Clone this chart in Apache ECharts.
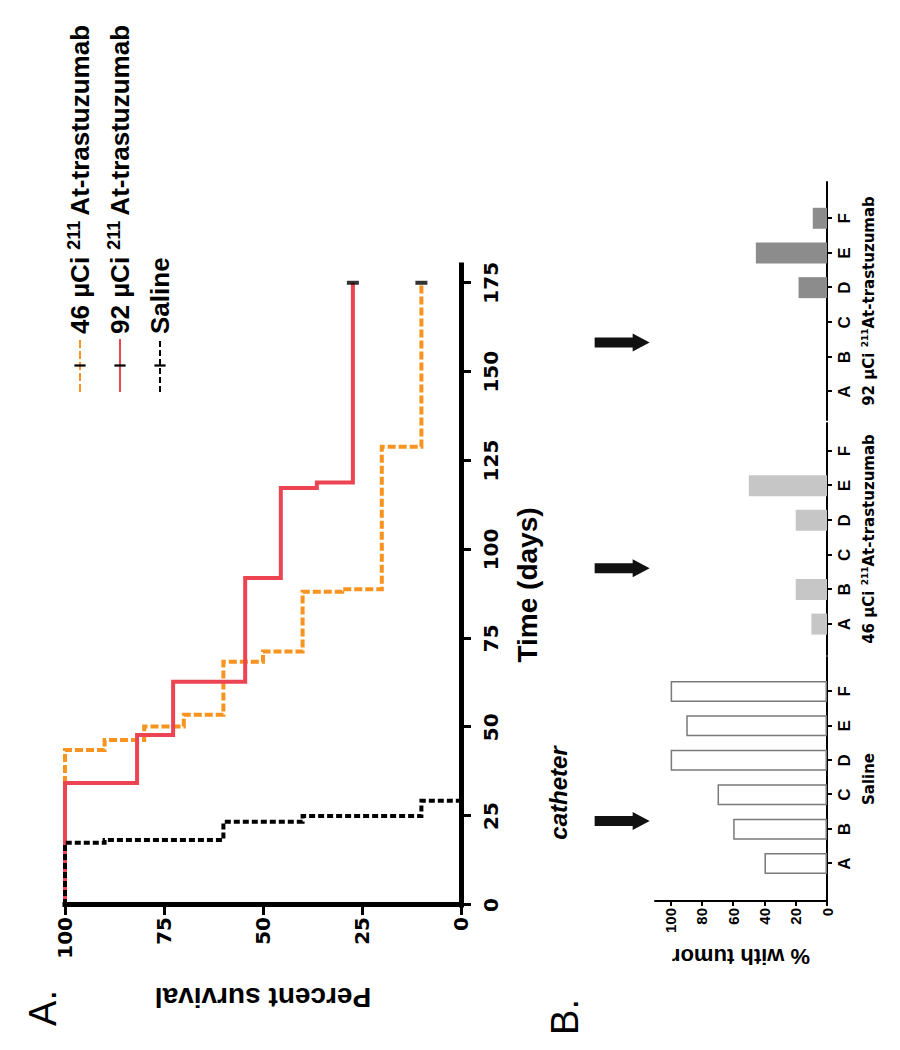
<!DOCTYPE html>
<html><head><meta charset="utf-8">
<script src="https://cdn.jsdelivr.net/npm/echarts@6/dist/echarts.min.js"></script>
<style>
html,body{margin:0;padding:0;background:#fff;width:900px;height:1050px;overflow:hidden;}
#wrap{position:absolute;left:0;top:0;width:1050px;height:900px;transform-origin:0 0;transform:translate(0px,1050px) rotate(-90deg);background:#fff;}
</style></head>
<body><div id="wrap"></div>
<script>
// ---------- data ----------
const seriesNames = ['46 µCi 211At-trastuzumab', '92 µCi 211At-trastuzumab', 'Saline'];
const days46 = [0, 43.6, 46.4, 50.2, 53.5, 68.4, 71.3, 88.1, 88.8, 128.9, 175];
const pct46  = [100, 90, 80, 70, 60, 50, 40, 30, 20, 10, 10];
const days92 = [0, 34.3, 47.8, 62.8, 92.0, 117.3, 118.8, 175];
const pct92  = [100, 81.8, 72.7, 54.5, 45.5, 36.4, 27.3, 27.3];
const daysSaline = [0, 17.5, 18.3, 23.4, 25.0, 29.3];
const pctSaline  = [100, 90, 60, 40, 10, 0];
const censorDays = [175, 175];
const censorPct  = [10, 27.3];
const timeTicks = [0, 25, 50, 75, 100, 125, 150, 175];
const pctTicks  = [0, 25, 50, 75, 100];

const barCategories = ['A', 'B', 'C', 'D', 'E', 'F'];
const groupNames = ['Saline', '46 µCi 211At-trastuzumab', '92 µCi 211At-trastuzumab'];
const tumorSaline = [40, 60, 70, 100, 90, 100];
const tumor46     = [10, 20, 0, 20, 50, 0];
const tumor92     = [0, 0, 0, 18.2, 45.5, 9.1];
const tumorTicks  = [0, 20, 40, 60, 80, 100];
const arrowAt = [1.24, 1.61, 1.42];   // category position of each catheter arrow
const arrowLevel = 131;                // % level of arrow centre
const catheterAt = [2.05, 172];

// ---------- chart ----------
const chart = echarts.init(document.getElementById('wrap'), null, {renderer: 'svg', width: 1050, height: 900});
const BOLD_W = 'DejaVu Sans';
const ARIAL = 'Liberation Sans';
const tickSymbol = 'path://M0,0 M10,0 M10,10 M0,10 M4,0 L6,0 L6,10 L4,10 Z';

function km(name, days, pct, color, type, z) {
  return {
    type: 'line', name, xAxisIndex: 0, yAxisIndex: 0, step: 'end',
    data: days.map((d, i) => [d, pct[i]]),
    showSymbol: false, symbol: tickSymbol, symbolSize: 12,
    lineStyle: {color, width: 4, type, cap: 'butt', join: 'miter'},
    itemStyle: {color: '#000'}, z, silent: true, animation: false
  };
}
function bar(idx, values, style) {
  return {type: 'bar', xAxisIndex: idx, yAxisIndex: idx, barWidth: 21,
    data: values.map((v, k) => [k, v]), itemStyle: style, silent: true, animation: false};
}
const catIdx = barCategories.map((c, k) => k);
const supName = s => s.replace('211', '{sup|211}');
function catAxis(grid, min, max, name) {
  return {
    type: 'value', gridIndex: grid, min, max,
    axisLine: {onZero: false, lineStyle: {color: '#000', width: 2}},
    axisTick: {customValues: catIdx, length: 5, lineStyle: {color: '#000', width: 2}},
    axisLabel: {customValues: catIdx, formatter: v => barCategories[Math.round(v)], margin: 9,
      fontFamily: ARIAL, fontWeight: 'bold', fontSize: 17, color: '#000'},
    splitLine: {show: false},
    name: supName(name), nameLocation: 'middle', nameGap: 33,
    nameTextStyle: {fontFamily: BOLD_W, fontWeight: 'bold', fontSize: 15, color: '#000', lineHeight: 18,
      rich: {sup: {fontFamily: BOLD_W, fontWeight: 'bold', fontSize: 9, lineHeight: 8, verticalAlign: 'top', color: '#000'}}}
  };
}
function hiddenY(grid) {
  return {type: 'value', gridIndex: grid, min: 0, max: 110, show: false, splitLine: {show: false}};
}

const option = {
  backgroundColor: '#fff',
  animation: false,
  legend: {
    data: seriesNames, orient: 'vertical', left: 652, top: 60,
    itemWidth: 53, itemHeight: 14, itemGap: 10, selectedMode: false,
    formatter: name => supName(name),
    textStyle: {fontFamily: ARIAL, fontWeight: 'bold', fontSize: 26, lineHeight: 30, color: '#000',
      rich: {sup: {fontFamily: ARIAL, fontWeight: 'bold', fontSize: 18, lineHeight: 12, verticalAlign: 'top', color: '#000', padding: [0, 5, 0, 0]}}}
  },
  grid: [
    {left: 145, top: 65, width: 640, height: 396},
    {left: 149, top: 655, width: 244, height: 172},
    {left: 395, top: 655, width: 232, height: 172},
    {left: 630, top: 655, width: 238, height: 172}
  ],
  xAxis: [
    {
      type: 'value', gridIndex: 0, min: 0, max: 180,
      axisLine: {onZero: false, lineStyle: {color: '#000', width: 5, cap: 'square'}},
      axisTick: {customValues: timeTicks, length: 10, lineStyle: {color: '#000', width: 3}},
      axisLabel: {customValues: timeTicks, margin: 20, fontFamily: BOLD_W, fontWeight: 'bold', fontSize: 20, color: '#000'},
      splitLine: {show: false},
      name: 'Time (days)', nameLocation: 'middle', nameGap: 52,
      nameTextStyle: {fontFamily: ARIAL, fontWeight: 'bold', fontSize: 28, color: '#000'}
    },
    catAxis(1, -1.087, 6.0, groupNames[0]),
    catAxis(2, -0.893, 5.81, groupNames[1]),
    catAxis(3, -0.816, 6.046, groupNames[2])
  ],
  yAxis: [
    {
      type: 'value', gridIndex: 0, min: 0, max: 100,
      axisLine: {onZero: false, lineStyle: {color: '#000', width: 5, cap: 'square'}},
      axisTick: {customValues: pctTicks, length: 10, lineStyle: {color: '#000', width: 3}},
      axisLabel: {customValues: pctTicks, margin: 12, fontFamily: BOLD_W, fontWeight: 'bold', fontSize: 20, color: '#000'},
      splitLine: {show: false},
      name: 'Percent survival', nameLocation: 'middle', nameGap: 78,
      nameTextStyle: {fontFamily: ARIAL, fontWeight: 'bold', fontSize: 28, color: '#000'}
    },
    {
      type: 'value', gridIndex: 1, min: 0, max: 110,
      axisLine: {show: true, onZero: false, lineStyle: {color: '#000', width: 2}},
      axisTick: {show: true, customValues: tumorTicks, length: 5, lineStyle: {color: '#000', width: 2}},
      axisLabel: {customValues: tumorTicks, margin: 7, fontFamily: ARIAL, fontWeight: 'bold', fontSize: 15, color: '#000'},
      splitLine: {show: false},
      name: '% with tumor', nameLocation: 'middle', nameGap: 44,
      nameTextStyle: {fontFamily: ARIAL, fontWeight: 'bold', fontSize: 22, color: '#000'}
    },
    hiddenY(2),
    hiddenY(3)
  ],
  series: [
    km(seriesNames[0], days46, pct46, '#F7931E', [8, 3], 2),
    km(seriesNames[1], days92, pct92, '#EC4453', 'solid', 3),
    km(seriesNames[2], daysSaline, pctSaline, '#000000', [6, 3], 4),
    {type: 'scatter', xAxisIndex: 0, yAxisIndex: 0, data: censorDays.map((d, i) => [d, censorPct[i]]),
      symbol: 'rect', symbolSize: [4, 12], itemStyle: {color: '#000'}, z: 5, silent: true},
    bar(1, tumorSaline, {color: '#ffffff', borderColor: '#7a7a7a', borderWidth: 1.5}),
    bar(2, tumor46, {color: '#c6c6c6'}),
    bar(3, tumor92, {color: '#8c8c8c'})
  ]
};
chart.setOption(option);

// annotations placed through the axes' own scales
const arrowShape = [[-5, -27.5], [5, -27.5], [5, 10.5], [9, 10.5], [0, 27.5], [-9, 10.5], [-5, 10.5]];
const graphics = arrowAt.map((a, i) => {
  const p = chart.convertToPixel({gridIndex: i + 1}, [a, arrowLevel]);
  return {type: 'polygon', shape: {points: arrowShape.map(([dx, dy]) => [p[0] + dx, p[1] + dy])}, style: {fill: '#111'}, silent: true};
});
const cp = chart.convertToPixel({gridIndex: 1}, catheterAt);
graphics.push({type: 'text', x: cp[0], y: cp[1], style: {text: 'catheter', font: 'italic bold 24px "Liberation Sans"', fill: '#000', align: 'center', verticalAlign: 'middle'}});
graphics.push({type: 'text', x: 42, y: 43, style: {text: 'A.', font: '38px "Liberation Sans"', fill: '#000', align: 'center', verticalAlign: 'middle'}});
graphics.push({type: 'text', x: 33, y: 565, style: {text: 'B.', font: '38px "Liberation Sans"', fill: '#000', align: 'center', verticalAlign: 'middle'}});
chart.setOption({graphic: graphics});
</script>
</body></html>
